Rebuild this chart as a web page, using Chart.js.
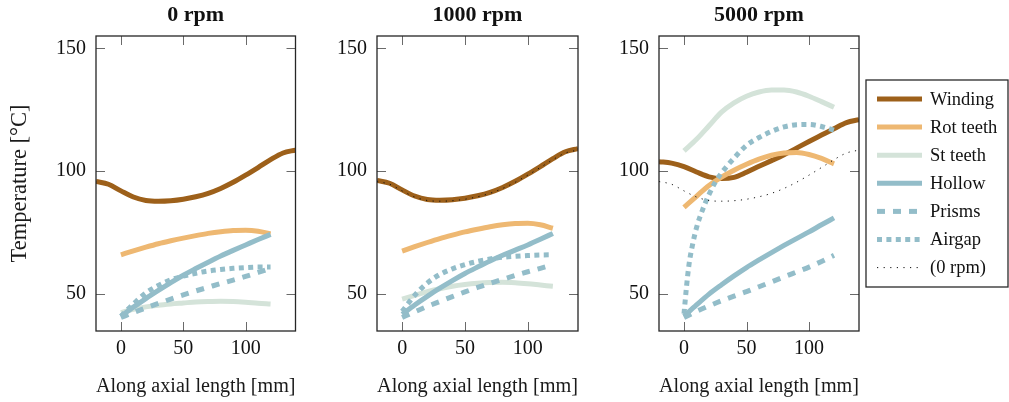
<!DOCTYPE html>
<html>
<head>
<meta charset="utf-8">
<script src="https://cdn.jsdelivr.net/npm/chart.js@4"></script>
<style>
  html, body { margin: 0; padding: 0; background: #ffffff; }
  #wrap { position: relative; width: 1009px; height: 402px; overflow: hidden; background: #ffffff; }
  #wrap canvas { position: absolute; top: 0; }
</style>
</head>
<body>
<div id="wrap">
  <canvas id="p0" width="300" height="402" style="left:0px"></canvas>
  <canvas id="p1" width="285" height="402" style="left:300px"></canvas>
  <canvas id="p2" width="424" height="402" style="left:585px"></canvas>
</div>
<script>
// ---- axial positions [mm] ----
const axialFull = [-20, -10, 0, 10, 20, 30, 40, 50, 60, 70, 80, 90, 100, 110, 120, 130, 140];
const axialActive = [0, 10, 20, 30, 40, 50, 60, 70, 80, 90, 100, 110, 120];
const airgapAxial5000 = [0, 2, 4, 7, 10, 15, 20, 25, 30, 40, 50, 60, 70, 80, 90, 100, 110, 120];

// ---- tick labels ----
const xTickValues = [0, 50, 100];
const yTickValues = [50, 100, 150];
const panelTitles = ['0 rpm', '1000 rpm', '5000 rpm'];
const seriesNames = ['Winding', 'Rot teeth', 'St teeth', 'Hollow', 'Prisms', 'Airgap', '(0 rpm)'];

// ---- temperatures [°C], 0 rpm ----
const winding0 = [95.8, 94.7, 92.0, 89.5, 88.1, 87.8, 88.0, 88.6, 89.6, 91.0, 93.0, 95.5, 98.4, 101.5, 104.7, 107.4, 108.6];
const rotTeeth0 = [66.0, 67.6, 69.1, 70.5, 71.7, 72.8, 73.8, 74.7, 75.4, 75.9, 76.0, 75.6, 74.5];
const stTeeth0 = [42.5, 43.8, 44.8, 45.5, 46.0, 46.4, 46.8, 47.0, 47.1, 47.0, 46.7, 46.3, 46.0];
const hollow0 = [41.0, 44.7, 48.2, 51.5, 54.7, 57.7, 60.4, 63.0, 65.5, 67.8, 70.0, 72.2, 74.3];
const prisms0 = [40.5, 42.5, 44.4, 46.2, 48.0, 49.7, 51.3, 52.8, 54.3, 55.7, 57.2, 58.8, 60.5];
const airgap0 = [41.0, 46.0, 50.5, 53.5, 55.8, 57.3, 58.5, 59.4, 60.0, 60.5, 60.8, 61.0, 61.0];

// ---- temperatures [°C], 1000 rpm ----
const winding1000 = [96.2, 95.1, 92.4, 89.9, 88.5, 88.2, 88.4, 89.0, 90.0, 91.4, 93.4, 95.9, 98.8, 101.9, 105.1, 107.9, 109.2];
const rotTeeth1000 = [67.5, 69.3, 71.0, 72.6, 74.0, 75.3, 76.4, 77.4, 78.2, 78.7, 78.8, 78.2, 76.8];
const stTeeth1000 = [48.0, 49.5, 51.0, 52.2, 53.2, 53.9, 54.4, 54.7, 54.8, 54.6, 54.2, 53.7, 53.2];
const hollow1000 = [41.8, 45.6, 49.1, 52.4, 55.5, 58.4, 61.0, 63.5, 65.8, 67.9, 70.0, 72.3, 74.7];
const prisms1000 = [40.5, 42.8, 45.0, 47.0, 49.0, 50.9, 52.7, 54.4, 56.0, 57.6, 59.1, 60.5, 62.0];
const airgap1000 = [43.0, 49.5, 54.5, 58.0, 60.3, 62.0, 63.3, 64.3, 65.0, 65.4, 65.7, 65.9, 66.0];

// ---- temperatures [°C], 5000 rpm ----
const winding5000 = [103.9, 103.3, 101.9, 99.7, 97.7, 97.0, 97.5, 99.6, 102.0, 104.3, 106.7, 109.4, 112.1, 114.7, 117.3, 119.8, 121.0];
const rotTeeth5000 = [85.3, 89.8, 94.2, 97.6, 100.4, 102.8, 104.9, 106.5, 107.4, 107.6, 106.8, 105.2, 103.0];
const stTeeth5000 = [108.3, 113.0, 118.5, 124.0, 127.8, 130.5, 132.2, 133.0, 133.0, 132.2, 130.5, 128.3, 126.0];
const hollow5000 = [41.0, 45.6, 50.0, 53.8, 57.4, 60.8, 63.9, 66.9, 69.8, 72.6, 75.3, 78.2, 81.0];
const prisms5000 = [40.5, 43.0, 45.2, 47.3, 49.2, 51.0, 53.0, 55.0, 57.0, 59.0, 61.0, 63.3, 65.8];
const airgap5000 = [42.0, 53.0, 62.0, 70.5, 77.0, 84.5, 90.5, 95.5, 99.3, 105.3, 110.5, 113.7, 116.2, 118.0, 118.9, 119.0, 118.2, 116.7];

// ---- styling ----
const SERIF = "'Liberation Serif', 'Times New Roman', serif";
const COLORS = {
  winding: '#9d601a',
  rot: '#eeb872',
  st: '#d4e3d9',
  blue: '#93bdc9',
  ref: '#111111'
};
const TICK_LEN = 9;

function pts(xs, ys) {
  return xs.map((x, i) => ({ x: x, y: ys[i] }));
}

function lineSet(label, data, color, dash, width, idx) {
  return {
    label: label,
    data: data,
    borderColor: color,
    backgroundColor: color,
    borderWidth: width,
    borderDash: dash,
    borderCapStyle: 'butt',
    pointRadius: 0,
    pointHoverRadius: 0,
    fill: false,
    showLine: true,
    cubicInterpolationMode: 'monotone',
    order: 20 - idx
  };
}

function buildDatasets(w, r, s, h, p, a, aX, withRef) {
  const sets = [
    lineSet(seriesNames[0], pts(axialFull, w), COLORS.winding, [], 5, 0),
    lineSet(seriesNames[1], pts(axialActive, r), COLORS.rot, [], 5, 1),
    lineSet(seriesNames[2], pts(axialActive, s), COLORS.st, [], 5, 2),
    lineSet(seriesNames[3], pts(axialActive, h), COLORS.blue, [], 5, 3),
    lineSet(seriesNames[4], pts(axialActive, p), COLORS.blue, [8, 8], 5, 4),
    lineSet(seriesNames[5], pts(aX, a), COLORS.blue, [5, 4.4], 5, 5)
  ];
  if (withRef) {
    sets.push(lineSet(seriesNames[6], pts(axialFull, winding0), COLORS.ref, [1.2, 5.4], 1, 6));
  }
  return sets;
}

// frame around the plot area with inward ticks on all four sides
const frameTicks = {
  id: 'frameTicks',
  afterDatasetsDraw(chart) {
    const { ctx, chartArea: a, scales } = chart;
    const x = scales.x, y = scales.y;
    ctx.save();
    ctx.strokeStyle = '#6a6a6a';
    ctx.lineWidth = 1;
    ctx.beginPath();
    x.ticks.forEach(t => {
      const px = Math.round(x.getPixelForValue(t.value)) + 0.5;
      ctx.moveTo(px, a.bottom); ctx.lineTo(px, a.bottom - TICK_LEN);
      ctx.moveTo(px, a.top); ctx.lineTo(px, a.top + TICK_LEN);
    });
    y.ticks.forEach(t => {
      const py = Math.round(y.getPixelForValue(t.value)) + 0.5;
      ctx.moveTo(a.left, py); ctx.lineTo(a.left + TICK_LEN, py);
      ctx.moveTo(a.right, py); ctx.lineTo(a.right - TICK_LEN, py);
    });
    ctx.stroke();
    ctx.strokeStyle = '#262626';
    ctx.lineWidth = 1.3;
    ctx.strokeRect(a.left, a.top, a.right - a.left, a.bottom - a.top);
    ctx.restore();
  }
};

// boxed legend to the right of the last panel
const boxLegend = {
  id: 'boxLegend',
  afterDraw(chart) {
    const { ctx, chartArea: a } = chart;
    const sets = chart.data.datasets;
    const boxW = 142, boxH = 207, rowH = 28.1;
    const left = a.right + 7;
    const top = (a.top + a.bottom) / 2 - boxH / 2;
    ctx.save();
    ctx.fillStyle = '#ffffff';
    ctx.fillRect(left, top, boxW, boxH);
    ctx.strokeStyle = '#2a2a2a';
    ctx.lineWidth = 1.3;
    ctx.strokeRect(left, top, boxW, boxH);
    ctx.font = '18.5px ' + SERIF;
    ctx.textBaseline = 'middle';
    ctx.textAlign = 'left';
    sets.forEach((ds, i) => {
      const yRow = top + 19 + i * rowH;
      ctx.beginPath();
      ctx.setLineDash(ds.borderDash || []);
      ctx.lineDashOffset = 0;
      ctx.lineCap = 'butt';
      ctx.strokeStyle = ds.borderColor;
      ctx.lineWidth = ds.borderWidth;
      ctx.moveTo(left + 11, yRow);
      ctx.lineTo(left + 56, yRow);
      ctx.stroke();
      ctx.setLineDash([]);
      ctx.fillStyle = '#111111';
      ctx.fillText(ds.label, left + 64, yRow + 1);
    });
    ctx.restore();
  }
};

function makePanel(canvasId, title, datasets, yWidth, rightPad, showYTitle, withLegend) {
  const plugins = [frameTicks];
  if (withLegend) plugins.push(boxLegend);
  return new Chart(document.getElementById(canvasId), {
    type: 'scatter',
    data: { datasets: datasets },
    plugins: plugins,
    options: {
      responsive: false,
      animation: false,
      devicePixelRatio: 1,
      layout: { padding: { left: 0, right: rightPad, top: 0, bottom: 0 } },
      plugins: {
        legend: { display: false },
        tooltip: { enabled: false },
        title: {
          display: true,
          text: title,
          fullSize: false,
          color: '#111111',
          font: { family: SERIF, size: 22, weight: 'bold', lineHeight: 1.2 },
          padding: { top: 2.5, bottom: 7.1 }
        }
      },
      scales: {
        x: {
          type: 'linear',
          position: 'bottom',
          min: -20,
          max: 140,
          grid: { display: false, drawTicks: false },
          border: { display: false },
          afterBuildTicks(scale) { scale.ticks = xTickValues.map(v => ({ value: v })); },
          afterFit(scale) { scale.height = 71; },
          ticks: {
            color: '#111111',
            padding: 6,
            maxRotation: 0,
            font: { family: SERIF, size: 20 }
          },
          title: {
            display: true,
            text: 'Along axial length [mm]',
            color: '#1a1a1a',
            font: { family: SERIF, size: 20.5, lineHeight: 1.2 },
            padding: { top: 0, bottom: 3 }
          }
        },
        y: {
          type: 'linear',
          position: 'left',
          min: 35,
          max: 155,
          grid: { display: false, drawTicks: false },
          border: { display: false },
          afterBuildTicks(scale) { scale.ticks = yTickValues.map(v => ({ value: v })); },
          afterFit(scale) { scale.width = yWidth; },
          ticks: {
            color: '#111111',
            padding: 10,
            font: { family: SERIF, size: 20 }
          },
          title: {
            display: showYTitle,
            text: 'Temperature [°C]',
            color: '#1a1a1a',
            font: { family: SERIF, size: 22.5, lineHeight: 1.2 },
            padding: { top: 6.5, bottom: 0 }
          }
        }
      }
    }
  });
}

makePanel('p0', panelTitles[0],
  buildDatasets(winding0, rotTeeth0, stTeeth0, hollow0, prisms0, airgap0, axialActive, false),
  96, 4.5, true, false);
makePanel('p1', panelTitles[1],
  buildDatasets(winding1000, rotTeeth1000, stTeeth1000, hollow1000, prisms1000, airgap1000, axialActive, true),
  77, 7, false, false);
makePanel('p2', panelTitles[2],
  buildDatasets(winding5000, rotTeeth5000, stTeeth5000, hollow5000, prisms5000, airgap5000, airgapAxial5000, true),
  74, 150, false, true);
</script>
</body>
</html>
